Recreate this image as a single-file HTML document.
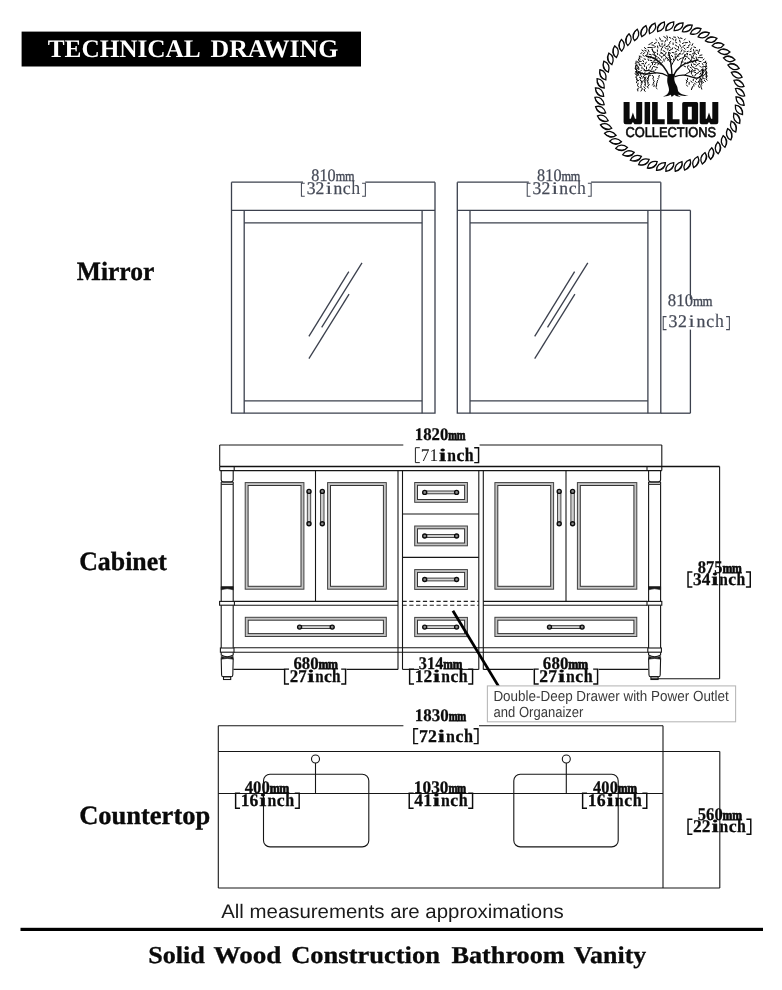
<!DOCTYPE html>
<html><head><meta charset="utf-8"><title>Technical Drawing</title>
<style>
html,body{margin:0;padding:0;background:#fff;}
body{width:782px;height:990px;overflow:hidden;position:relative;font-family:"Liberation Sans",sans-serif;}
svg{position:absolute;left:0;top:0;display:block;will-change:transform;}
.m{stroke:#3b404d;stroke-width:1.3;fill:none;}
.c{stroke:#161616;stroke-width:1.1;fill:none;}
.cg{stroke:#4a4a4a;stroke-width:1;fill:none;}
.ck{stroke:#111;stroke-width:1.5;fill:none;}
.pn{stroke:#404040;stroke-width:1;fill:none;}
.pi{stroke:#333;stroke-width:1;fill:none;}
text{font-family:"Liberation Serif",serif;text-rendering:geometricPrecision;}
.d{font-size:17.8px;text-anchor:middle;fill:#454a57;}
.d.b{font-weight:bold;fill:#0c0c0c;}
.d.l{font-weight:normal;fill:#222;}
.lab{font-family:"Liberation Serif",serif;font-weight:bold;font-size:26.4px;fill:#0a0a0a;stroke:#0a0a0a;stroke-width:.35;}
.ttl{font-family:"Liberation Serif",serif;font-weight:bold;font-size:25.3px;fill:#fff;}
.ftr{font-family:"Liberation Serif",serif;font-weight:bold;font-size:24.2px;fill:#0a0a0a;stroke:#0a0a0a;stroke-width:.3;}
.note{font-family:"Liberation Sans",sans-serif;font-size:19.6px;fill:#1a1a1a;}
.call{font-family:"Liberation Sans",sans-serif;font-size:14.7px;fill:#3a3a3a;}
</style></head><body>
<svg width="782" height="990" viewBox="0 0 782 990">
<rect x="0" y="0" width="782" height="990" fill="#fff"/>
<rect x="21.6" y="31.6" width="339.4" height="34.9" fill="#000"/>
<text class="ttl" x="47.7" y="56.7" textLength="153" lengthAdjust="spacingAndGlyphs">TECHNICAL</text>
<text class="ttl" x="210.5" y="56.7" textLength="127.8" lengthAdjust="spacingAndGlyphs">DRAWING</text>
<text class="lab" x="76.8" y="280.4" textLength="77.6" lengthAdjust="spacingAndGlyphs">Mirror</text>
<text class="lab" x="79.2" y="569.6" textLength="87.6" lengthAdjust="spacingAndGlyphs">Cabinet</text>
<text class="lab" x="79.2" y="823.8" textLength="131" lengthAdjust="spacingAndGlyphs">Countertop</text>
<g class="m">
<path d="M231.5 182.2V413.2H435V182.2"/>
<line x1="231.5" y1="210.3" x2="435" y2="210.3"/>
<line x1="244.2" y1="210.3" x2="244.2" y2="413.2"/>
<line x1="422.1" y1="210.3" x2="422.1" y2="413.2"/>
<line x1="244.2" y1="222.9" x2="422.1" y2="222.9"/>
<line x1="244.2" y1="400.9" x2="422.1" y2="400.9"/>
<line x1="231.5" y1="182.2" x2="303" y2="182.2"/>
<line x1="365.3" y1="182.2" x2="435" y2="182.2"/>
<line x1="348.8" y1="271.7" x2="308.9" y2="336.3"/>
<line x1="362" y1="262.8" x2="321.7" y2="327.4"/>
<line x1="349.1" y1="294.1" x2="308.9" y2="358.7"/>
</g>
<text class="d" transform="translate(315.29 181.4) scale(0.91 1)" stroke="#454a57" stroke-width=".25">8</text>
<text class="d" transform="translate(323.47 181.4) scale(0.91 1)" stroke="#454a57" stroke-width=".25">1</text>
<text class="d" transform="translate(331.65 181.4) scale(0.91 1)" stroke="#454a57" stroke-width=".25">0</text>
<text class="d" transform="translate(340.41 181.4) scale(0.69 0.83)" stroke="#454a57" stroke-width=".5">m</text>
<text class="d" transform="translate(349.74 181.4) scale(0.69 0.83)" stroke="#454a57" stroke-width=".5">m</text>
<path d="M304.73 183.2H301.43V196.2H304.73" fill="none" stroke="#454a57" stroke-width="1.05"/>
<text class="d" transform="translate(311.07 194) scale(0.99 1)" stroke="#454a57" stroke-width=".25">3</text>
<text class="d" transform="translate(320 194) scale(0.99 1)" stroke="#454a57" stroke-width=".25">2</text>
<text class="d" transform="translate(328.93 194) scale(1.45 1)">i</text>
<text class="d" transform="translate(337.87 194) scale(0.99 1)" stroke="#454a57" stroke-width=".25">n</text>
<text class="d" transform="translate(346.8 194) scale(1 1)" stroke="#454a57" stroke-width=".25">c</text>
<text class="d" transform="translate(355.73 194) scale(1 1.08)">h</text>
<path d="M362.07 183.2H365.38V196.2H362.07" fill="none" stroke="#454a57" stroke-width="1.05"/>
<g class="m">
<path d="M457.3 182.2V413.2H660.8V182.2"/>
<line x1="457.3" y1="210.3" x2="660.8" y2="210.3"/>
<line x1="470" y1="210.3" x2="470" y2="413.2"/>
<line x1="647.9" y1="210.3" x2="647.9" y2="413.2"/>
<line x1="470" y1="222.9" x2="647.9" y2="222.9"/>
<line x1="470" y1="400.9" x2="647.9" y2="400.9"/>
<line x1="457.3" y1="182.2" x2="528.8" y2="182.2"/>
<line x1="591.1" y1="182.2" x2="660.8" y2="182.2"/>
<line x1="574.6" y1="271.7" x2="534.7" y2="336.3"/>
<line x1="587.8" y1="262.8" x2="547.5" y2="327.4"/>
<line x1="574.9" y1="294.1" x2="534.7" y2="358.7"/>
</g>
<text class="d" transform="translate(541.09 181.4) scale(0.91 1)" stroke="#454a57" stroke-width=".25">8</text>
<text class="d" transform="translate(549.27 181.4) scale(0.91 1)" stroke="#454a57" stroke-width=".25">1</text>
<text class="d" transform="translate(557.45 181.4) scale(0.91 1)" stroke="#454a57" stroke-width=".25">0</text>
<text class="d" transform="translate(566.21 181.4) scale(0.69 0.83)" stroke="#454a57" stroke-width=".5">m</text>
<text class="d" transform="translate(575.54 181.4) scale(0.69 0.83)" stroke="#454a57" stroke-width=".5">m</text>
<path d="M530.52 183.2H527.23V196.2H530.52" fill="none" stroke="#454a57" stroke-width="1.05"/>
<text class="d" transform="translate(536.87 194) scale(0.99 1)" stroke="#454a57" stroke-width=".25">3</text>
<text class="d" transform="translate(545.8 194) scale(0.99 1)" stroke="#454a57" stroke-width=".25">2</text>
<text class="d" transform="translate(554.73 194) scale(1.45 1)">i</text>
<text class="d" transform="translate(563.67 194) scale(0.99 1)" stroke="#454a57" stroke-width=".25">n</text>
<text class="d" transform="translate(572.6 194) scale(1 1)" stroke="#454a57" stroke-width=".25">c</text>
<text class="d" transform="translate(581.53 194) scale(1 1.08)">h</text>
<path d="M587.88 183.2H591.18V196.2H587.88" fill="none" stroke="#454a57" stroke-width="1.05"/>
<g class="m">
<line x1="660.8" y1="210.3" x2="690.4" y2="210.3"/>
<line x1="660.8" y1="413.2" x2="690.4" y2="413.2"/>
<line x1="690.4" y1="210.3" x2="690.4" y2="299.5"/>
<line x1="690.4" y1="329.6" x2="690.4" y2="413.2"/>
</g>
<text class="d" transform="translate(671.84 306.3) scale(0.94 1)" stroke="#454a57" stroke-width=".25">8</text>
<text class="d" transform="translate(680.33 306.3) scale(0.94 1)" stroke="#454a57" stroke-width=".25">1</text>
<text class="d" transform="translate(688.81 306.3) scale(0.94 1)" stroke="#454a57" stroke-width=".25">0</text>
<text class="d" transform="translate(697.89 306.3) scale(0.72 0.83)" stroke="#454a57" stroke-width=".5">m</text>
<text class="d" transform="translate(707.56 306.3) scale(0.72 0.83)" stroke="#454a57" stroke-width=".5">m</text>
<path d="M666.52 316.6H663.22V329.6H666.52" fill="none" stroke="#454a57" stroke-width="1.05"/>
<text class="d" transform="translate(673.05 327.4) scale(1 1)" stroke="#454a57" stroke-width=".25">3</text>
<text class="d" transform="translate(682.35 327.4) scale(1 1)" stroke="#454a57" stroke-width=".25">2</text>
<text class="d" transform="translate(691.65 327.4) scale(1.45 1)">i</text>
<text class="d" transform="translate(700.95 327.4) scale(1 1)" stroke="#454a57" stroke-width=".25">n</text>
<text class="d" transform="translate(710.25 327.4) scale(1 1)" stroke="#454a57" stroke-width=".25">c</text>
<text class="d" transform="translate(719.55 327.4) scale(1 1.08)">h</text>
<path d="M726.08 316.6H729.38V329.6H726.08" fill="none" stroke="#454a57" stroke-width="1.05"/>
<g class="c">
<line x1="219.7" y1="445" x2="219.7" y2="466.4"/>
<line x1="661.8" y1="445" x2="661.8" y2="466.4"/>
<line x1="219.7" y1="445" x2="403.3" y2="445"/>
<line x1="479.6" y1="445" x2="661.8" y2="445"/>
<line x1="219.7" y1="466.4" x2="719.6" y2="466.4" class="ck"/>
<line x1="219.7" y1="470.6" x2="661.8" y2="470.6"/>
<line x1="219.7" y1="466.4" x2="219.7" y2="470.6"/>
<line x1="661.8" y1="466.4" x2="661.8" y2="470.6"/>
<line x1="234.2" y1="466.4" x2="234.2" y2="470.6"/>
<line x1="647" y1="466.4" x2="647" y2="470.6"/>
<line x1="719.6" y1="466.4" x2="719.6" y2="678.8"/>
<line x1="651" y1="678.8" x2="719.6" y2="678.8"/>
<line x1="221.2" y1="484.3" x2="221.2" y2="601.4"/>
<line x1="233.2" y1="484.3" x2="233.2" y2="601.4"/>
<path d="M221.2 470.6V479.5Q221.2 482 223.7 482H230.7Q233.2 482 233.2 479.5V470.6"/>
<line x1="221.2" y1="482" x2="233.2" y2="482"/>
<line x1="221.2" y1="484.3" x2="233.2" y2="484.3"/>
<line x1="221.2" y1="482" x2="221.2" y2="484.3"/>
<line x1="233.2" y1="482" x2="233.2" y2="484.3"/>
<path d="M221.2 586.6H233.2V589.8Q227.2 587.6 221.2 589.8Z" fill="#1a1a1a" stroke-width=".6"/>
<rect x="219.6" y="601.4" width="14.8" height="3.8"/>
<line x1="221.2" y1="605.2" x2="221.2" y2="648"/>
<line x1="233.2" y1="605.2" x2="233.2" y2="648"/>
<rect x="220.4" y="648" width="13.6" height="4.2"/>
<path d="M221.2 652.2V655Q227.2 658.5 233.2 655V652.2"/>
<path d="M221.2 659.2V656.4Q227.2 658.2 233.2 656.4V659.2Q227.2 657.6 221.2 659.2Z" fill="#1a1a1a" stroke-width=".6"/>
<path d="M221.2 658.5L221.6 675Q221.7 676.7 223.2 676.7H231.2Q232.7 676.7 232.8 675L233.2 658.5"/>
<rect x="223.5" y="676.7" width="7.2" height="2.8"/>
<line x1="648.6" y1="484.3" x2="648.6" y2="601.4"/>
<line x1="660.6" y1="484.3" x2="660.6" y2="601.4"/>
<path d="M648.6 470.6V479.5Q648.6 482 651.1 482H658.1Q660.6 482 660.6 479.5V470.6"/>
<line x1="648.6" y1="482" x2="660.6" y2="482"/>
<line x1="648.6" y1="484.3" x2="660.6" y2="484.3"/>
<line x1="648.6" y1="482" x2="648.6" y2="484.3"/>
<line x1="660.6" y1="482" x2="660.6" y2="484.3"/>
<path d="M648.6 586.6H660.6V589.8Q654.6 587.6 648.6 589.8Z" fill="#1a1a1a" stroke-width=".6"/>
<rect x="647" y="601.4" width="14.8" height="3.8"/>
<line x1="648.6" y1="605.2" x2="648.6" y2="648"/>
<line x1="660.6" y1="605.2" x2="660.6" y2="648"/>
<rect x="647.8" y="648" width="13.6" height="4.2"/>
<path d="M648.6 652.2V655Q654.6 658.5 660.6 655V652.2"/>
<path d="M648.6 659.2V656.4Q654.6 658.2 660.6 656.4V659.2Q654.6 657.6 648.6 659.2Z" fill="#1a1a1a" stroke-width=".6"/>
<path d="M648.6 658.5L649 675Q649.1 676.7 650.6 676.7H658.6Q660.1 676.7 660.2 675L660.6 658.5"/>
<rect x="650.9" y="676.7" width="7.2" height="2.8"/>
<line x1="234.4" y1="601.4" x2="398" y2="601.4"/>
<line x1="483.3" y1="601.4" x2="647" y2="601.4"/>
<line x1="402.5" y1="601.4" x2="478.8" y2="601.4" stroke-dasharray="4.2 2.6" stroke="#222"/>
<line x1="234.4" y1="605.2" x2="398" y2="605.2"/>
<line x1="483.3" y1="605.2" x2="647" y2="605.2"/>
<line x1="402.5" y1="605.2" x2="478.8" y2="605.2" stroke-dasharray="4.2 2.6" stroke="#222"/>
<line x1="234" y1="647.8" x2="647.8" y2="647.8"/>
<line x1="234" y1="652.2" x2="647.8" y2="652.2"/>
<line x1="398" y1="470.6" x2="398" y2="669.4"/>
<line x1="402.5" y1="470.6" x2="402.5" y2="669.4"/>
<line x1="478.8" y1="470.6" x2="478.8" y2="669.4"/>
<line x1="483.3" y1="470.6" x2="483.3" y2="669.4"/>
<line x1="315.5" y1="470.6" x2="315.5" y2="601.4"/>
<line x1="566" y1="470.6" x2="566" y2="601.4"/>
<line x1="402.5" y1="514" x2="478.8" y2="514"/>
<line x1="402.5" y1="557.4" x2="478.8" y2="557.4"/>
<line x1="233.4" y1="669.4" x2="284" y2="669.4"/>
<line x1="346.5" y1="669.4" x2="398" y2="669.4"/>
<line x1="402.5" y1="669.4" x2="419" y2="669.4"/>
<line x1="462" y1="669.4" x2="478.8" y2="669.4"/>
<line x1="483.3" y1="669.4" x2="533.5" y2="669.4"/>
<line x1="598.6" y1="669.4" x2="648.4" y2="669.4"/>
</g>
<rect x="246.65" y="484.05" width="55.8" height="103.7" stroke="#c4c4c4" stroke-width="2.9" fill="none"/>
<rect x="245.2" y="482.6" width="58.7" height="106.6" class="pn"/>
<rect x="248.1" y="485.5" width="52.9" height="100.8" class="pi"/>
<rect x="329.05" y="484.05" width="55.8" height="103.7" stroke="#c4c4c4" stroke-width="2.9" fill="none"/>
<rect x="327.6" y="482.6" width="58.7" height="106.6" class="pn"/>
<rect x="330.5" y="485.5" width="52.9" height="100.8" class="pi"/>
<rect x="496.35" y="484.05" width="55.8" height="103.7" stroke="#c4c4c4" stroke-width="2.9" fill="none"/>
<rect x="494.9" y="482.6" width="58.7" height="106.6" class="pn"/>
<rect x="497.8" y="485.5" width="52.9" height="100.8" class="pi"/>
<rect x="578.85" y="484.05" width="56.5" height="103.7" stroke="#c4c4c4" stroke-width="2.9" fill="none"/>
<rect x="577.4" y="482.6" width="59.4" height="106.6" class="pn"/>
<rect x="580.3" y="485.5" width="53.6" height="100.8" class="pi"/>
<rect x="416.1" y="483.9" width="49.9" height="17" stroke="#c4c4c4" stroke-width="2.8" fill="none"/>
<rect x="414.7" y="482.5" width="52.7" height="19.8" class="pn"/>
<rect x="417.5" y="485.3" width="47.1" height="14.2" class="pi"/>
<rect x="416.1" y="527.4" width="49.9" height="17" stroke="#c4c4c4" stroke-width="2.8" fill="none"/>
<rect x="414.7" y="526" width="52.7" height="19.8" class="pn"/>
<rect x="417.5" y="528.8" width="47.1" height="14.2" class="pi"/>
<rect x="416.1" y="571" width="49.9" height="17" stroke="#c4c4c4" stroke-width="2.8" fill="none"/>
<rect x="414.7" y="569.6" width="52.7" height="19.8" class="pn"/>
<rect x="417.5" y="572.4" width="47.1" height="14.2" class="pi"/>
<rect x="416.1" y="618.8" width="49.9" height="16.4" stroke="#c4c4c4" stroke-width="2.8" fill="none"/>
<rect x="414.7" y="617.4" width="52.7" height="19.2" class="pn"/>
<rect x="417.5" y="620.2" width="47.1" height="13.6" class="pi"/>
<rect x="246.75" y="618.75" width="138.1" height="16.3" stroke="#c4c4c4" stroke-width="2.9" fill="none"/>
<rect x="245.3" y="617.3" width="141" height="19.2" class="pn"/>
<rect x="248.2" y="620.2" width="135.2" height="13.4" class="pi"/>
<rect x="496.35" y="618.75" width="139" height="16.3" stroke="#c4c4c4" stroke-width="2.9" fill="none"/>
<rect x="494.9" y="617.3" width="141.9" height="19.2" class="pn"/>
<rect x="497.8" y="620.2" width="136.1" height="13.4" class="pi"/>
<rect x="307.3" y="491.4" width="3.4" height="32.3" stroke="#3a3a3a" stroke-width=".9" fill="#cfcfcf"/>
<circle cx="309" cy="491.4" r="2" fill="#8c8c8c" stroke="#0c0c0c" stroke-width="1.4"/>
<circle cx="309" cy="523.7" r="2" fill="#8c8c8c" stroke="#0c0c0c" stroke-width="1.4"/>
<rect x="320.6" y="491.4" width="3.4" height="32.3" stroke="#3a3a3a" stroke-width=".9" fill="#cfcfcf"/>
<circle cx="322.3" cy="491.4" r="2" fill="#8c8c8c" stroke="#0c0c0c" stroke-width="1.4"/>
<circle cx="322.3" cy="523.7" r="2" fill="#8c8c8c" stroke="#0c0c0c" stroke-width="1.4"/>
<rect x="557.5" y="491.4" width="3.4" height="32.3" stroke="#3a3a3a" stroke-width=".9" fill="#cfcfcf"/>
<circle cx="559.2" cy="491.4" r="2" fill="#8c8c8c" stroke="#0c0c0c" stroke-width="1.4"/>
<circle cx="559.2" cy="523.7" r="2" fill="#8c8c8c" stroke="#0c0c0c" stroke-width="1.4"/>
<rect x="570.9" y="491.4" width="3.4" height="32.3" stroke="#3a3a3a" stroke-width=".9" fill="#cfcfcf"/>
<circle cx="572.6" cy="491.4" r="2" fill="#8c8c8c" stroke="#0c0c0c" stroke-width="1.4"/>
<circle cx="572.6" cy="523.7" r="2" fill="#8c8c8c" stroke="#0c0c0c" stroke-width="1.4"/>
<rect x="424.7" y="491" width="31.9" height="2.8" stroke="#2a2a2a" stroke-width=".9" fill="#d5d5d5"/>
<circle cx="424.7" cy="492.4" r="2" fill="#8c8c8c" stroke="#0c0c0c" stroke-width="1.4"/>
<circle cx="456.6" cy="492.4" r="2" fill="#8c8c8c" stroke="#0c0c0c" stroke-width="1.4"/>
<rect x="424.7" y="534.6" width="31.9" height="2.8" stroke="#2a2a2a" stroke-width=".9" fill="#d5d5d5"/>
<circle cx="424.7" cy="536" r="2" fill="#8c8c8c" stroke="#0c0c0c" stroke-width="1.4"/>
<circle cx="456.6" cy="536" r="2" fill="#8c8c8c" stroke="#0c0c0c" stroke-width="1.4"/>
<rect x="424.7" y="578.1" width="31.9" height="2.8" stroke="#2a2a2a" stroke-width=".9" fill="#d5d5d5"/>
<circle cx="424.7" cy="579.5" r="2" fill="#8c8c8c" stroke="#0c0c0c" stroke-width="1.4"/>
<circle cx="456.6" cy="579.5" r="2" fill="#8c8c8c" stroke="#0c0c0c" stroke-width="1.4"/>
<rect x="424.7" y="625.7" width="31.9" height="2.8" stroke="#2a2a2a" stroke-width=".9" fill="#d5d5d5"/>
<circle cx="424.7" cy="627.1" r="2" fill="#8c8c8c" stroke="#0c0c0c" stroke-width="1.4"/>
<circle cx="456.6" cy="627.1" r="2" fill="#8c8c8c" stroke="#0c0c0c" stroke-width="1.4"/>
<rect x="299.6" y="625.7" width="32.6" height="2.8" stroke="#2a2a2a" stroke-width=".9" fill="#d5d5d5"/>
<circle cx="299.6" cy="627.1" r="2" fill="#8c8c8c" stroke="#0c0c0c" stroke-width="1.4"/>
<circle cx="332.2" cy="627.1" r="2" fill="#8c8c8c" stroke="#0c0c0c" stroke-width="1.4"/>
<rect x="549.5" y="625.7" width="32.6" height="2.8" stroke="#2a2a2a" stroke-width=".9" fill="#d5d5d5"/>
<circle cx="549.5" cy="627.1" r="2" fill="#8c8c8c" stroke="#0c0c0c" stroke-width="1.4"/>
<circle cx="582.1" cy="627.1" r="2" fill="#8c8c8c" stroke="#0c0c0c" stroke-width="1.4"/>
<text class="d b" transform="translate(418.83 439.8) scale(0.94 1)" stroke="#0c0c0c" stroke-width=".25">1</text>
<text class="d b" transform="translate(427.3 439.8) scale(0.94 1)" stroke="#0c0c0c" stroke-width=".25">8</text>
<text class="d b" transform="translate(435.77 439.8) scale(0.94 1)" stroke="#0c0c0c" stroke-width=".25">2</text>
<text class="d b" transform="translate(444.23 439.8) scale(0.94 1)" stroke="#0c0c0c" stroke-width=".25">0</text>
<text class="d b" transform="translate(452.7 439.8) scale(0.59 0.83)" stroke="#0c0c0c" stroke-width="1.0">m</text>
<text class="d b" transform="translate(461.17 439.8) scale(0.59 0.83)" stroke="#0c0c0c" stroke-width="1.0">m</text>
<path d="M419.8 447.7H415.4V462.6H419.8" fill="none" stroke="#222" stroke-width="1"/>
<text class="d l" transform="translate(425.02 460.6) scale(0.98 1)">7</text>
<text class="d l" transform="translate(433.85 460.6) scale(0.98 1)">1</text>
<text class="d b" transform="translate(442.68 460.6) scale(1.45 1)" stroke="#0c0c0c" stroke-width=".3">i</text>
<text class="d b" transform="translate(451.52 460.6) scale(0.88 1)" stroke="#0c0c0c" stroke-width=".25">n</text>
<text class="d b" transform="translate(460.35 460.6) scale(1 1)" stroke="#0c0c0c" stroke-width=".25">c</text>
<text class="d b" transform="translate(469.18 460.6) scale(0.89 1.08)" stroke="#0c0c0c" stroke-width=".3">h</text>
<path d="M474.18 447.7H478.57V462.6H474.18" fill="none" stroke="#0c0c0c" stroke-width="1.45"/>
<text class="d b" transform="translate(297.6 669.3) scale(0.94 1)" stroke="#0c0c0c" stroke-width=".25">6</text>
<text class="d b" transform="translate(306.01 669.3) scale(0.94 1)" stroke="#0c0c0c" stroke-width=".25">8</text>
<text class="d b" transform="translate(314.42 669.3) scale(0.94 1)" stroke="#0c0c0c" stroke-width=".25">0</text>
<text class="d b" transform="translate(323.42 669.3) scale(0.67 0.83)" stroke="#0c0c0c" stroke-width="1.0">m</text>
<text class="d b" transform="translate(333.01 669.3) scale(0.67 0.83)" stroke="#0c0c0c" stroke-width="1.0">m</text>
<path d="M289.03 669.1H284.63V684H289.03" fill="none" stroke="#0c0c0c" stroke-width="1.45"/>
<text class="d b" transform="translate(293.85 682) scale(0.95 1)" stroke="#0c0c0c" stroke-width=".25">2</text>
<text class="d b" transform="translate(302.35 682) scale(0.95 1)" stroke="#0c0c0c" stroke-width=".25">7</text>
<text class="d b" transform="translate(310.85 682) scale(1.45 1)" stroke="#0c0c0c" stroke-width=".3">i</text>
<text class="d b" transform="translate(319.35 682) scale(0.85 1)" stroke="#0c0c0c" stroke-width=".25">n</text>
<text class="d b" transform="translate(327.85 682) scale(1 1)" stroke="#0c0c0c" stroke-width=".25">c</text>
<text class="d b" transform="translate(336.35 682) scale(0.86 1.08)" stroke="#0c0c0c" stroke-width=".3">h</text>
<path d="M341.18 669.1H345.57V684H341.18" fill="none" stroke="#0c0c0c" stroke-width="1.45"/>
<text class="d b" transform="translate(422.91 669.3) scale(0.91 1)" stroke="#0c0c0c" stroke-width=".25">3</text>
<text class="d b" transform="translate(431.13 669.3) scale(0.91 1)" stroke="#0c0c0c" stroke-width=".25">1</text>
<text class="d b" transform="translate(439.35 669.3) scale(0.91 1)" stroke="#0c0c0c" stroke-width=".25">4</text>
<text class="d b" transform="translate(448.14 669.3) scale(0.65 0.83)" stroke="#0c0c0c" stroke-width="1.0">m</text>
<text class="d b" transform="translate(457.51 669.3) scale(0.65 0.83)" stroke="#0c0c0c" stroke-width="1.0">m</text>
<path d="M414.03 669.1H409.63V684H414.03" fill="none" stroke="#0c0c0c" stroke-width="1.45"/>
<text class="d b" transform="translate(419.02 682) scale(0.98 1)" stroke="#0c0c0c" stroke-width=".25">1</text>
<text class="d b" transform="translate(427.85 682) scale(0.98 1)" stroke="#0c0c0c" stroke-width=".25">2</text>
<text class="d b" transform="translate(436.68 682) scale(1.45 1)" stroke="#0c0c0c" stroke-width=".3">i</text>
<text class="d b" transform="translate(445.52 682) scale(0.88 1)" stroke="#0c0c0c" stroke-width=".25">n</text>
<text class="d b" transform="translate(454.35 682) scale(1 1)" stroke="#0c0c0c" stroke-width=".25">c</text>
<text class="d b" transform="translate(463.18 682) scale(0.89 1.08)" stroke="#0c0c0c" stroke-width=".3">h</text>
<path d="M468.18 669.1H472.57V684H468.18" fill="none" stroke="#0c0c0c" stroke-width="1.45"/>
<text class="d b" transform="translate(547.08 669.3) scale(0.95 1)" stroke="#0c0c0c" stroke-width=".25">6</text>
<text class="d b" transform="translate(555.64 669.3) scale(0.95 1)" stroke="#0c0c0c" stroke-width=".25">8</text>
<text class="d b" transform="translate(564.2 669.3) scale(0.95 1)" stroke="#0c0c0c" stroke-width=".25">0</text>
<text class="d b" transform="translate(573.36 669.3) scale(0.68 0.83)" stroke="#0c0c0c" stroke-width="1.0">m</text>
<text class="d b" transform="translate(583.12 669.3) scale(0.68 0.83)" stroke="#0c0c0c" stroke-width="1.0">m</text>
<path d="M538.72 669.1H534.32V684H538.72" fill="none" stroke="#0c0c0c" stroke-width="1.45"/>
<text class="d b" transform="translate(543.74 682) scale(0.99 1)" stroke="#0c0c0c" stroke-width=".25">2</text>
<text class="d b" transform="translate(552.62 682) scale(0.99 1)" stroke="#0c0c0c" stroke-width=".25">7</text>
<text class="d b" transform="translate(561.51 682) scale(1.45 1)" stroke="#0c0c0c" stroke-width=".3">i</text>
<text class="d b" transform="translate(570.39 682) scale(0.89 1)" stroke="#0c0c0c" stroke-width=".25">n</text>
<text class="d b" transform="translate(579.27 682) scale(1 1)" stroke="#0c0c0c" stroke-width=".25">c</text>
<text class="d b" transform="translate(588.16 682) scale(0.9 1.08)" stroke="#0c0c0c" stroke-width=".3">h</text>
<path d="M593.18 669.1H597.58V684H593.18" fill="none" stroke="#0c0c0c" stroke-width="1.45"/>
<text class="d b" transform="translate(701.77 572.7) scale(0.93 1)" stroke="#0c0c0c" stroke-width=".25">8</text>
<text class="d b" transform="translate(710.1 572.7) scale(0.93 1)" stroke="#0c0c0c" stroke-width=".25">7</text>
<text class="d b" transform="translate(718.43 572.7) scale(0.93 1)" stroke="#0c0c0c" stroke-width=".25">5</text>
<text class="d b" transform="translate(727.35 572.7) scale(0.66 0.83)" stroke="#0c0c0c" stroke-width="1.0">m</text>
<text class="d b" transform="translate(736.85 572.7) scale(0.66 0.83)" stroke="#0c0c0c" stroke-width="1.0">m</text>
<path d="M692.42 572H688.02V586.9H692.42" fill="none" stroke="#0c0c0c" stroke-width="1.45"/>
<text class="d b" transform="translate(697.36 584.9) scale(0.97 1)" stroke="#0c0c0c" stroke-width=".25">3</text>
<text class="d b" transform="translate(706.08 584.9) scale(0.97 1)" stroke="#0c0c0c" stroke-width=".25">4</text>
<text class="d b" transform="translate(714.79 584.9) scale(1.45 1)" stroke="#0c0c0c" stroke-width=".3">i</text>
<text class="d b" transform="translate(723.51 584.9) scale(0.87 1)" stroke="#0c0c0c" stroke-width=".25">n</text>
<text class="d b" transform="translate(732.23 584.9) scale(1 1)" stroke="#0c0c0c" stroke-width=".25">c</text>
<text class="d b" transform="translate(740.94 584.9) scale(0.88 1.08)" stroke="#0c0c0c" stroke-width=".3">h</text>
<path d="M745.88 572H750.27V586.9H745.88" fill="none" stroke="#0c0c0c" stroke-width="1.45"/>
<line x1="452.9" y1="610.8" x2="498.6" y2="686.4" stroke="#000" stroke-width="2.8"/>
<rect x="487.4" y="685.9" width="248.2" height="35.9" fill="#fff" stroke="#b9b9b9" stroke-width="1.1"/>
<text class="call" x="493.4" y="701.4" textLength="235.4" lengthAdjust="spacingAndGlyphs">Double-Deep Drawer with Power Outlet</text>
<text class="call" x="493.6" y="717.1" textLength="89.8" lengthAdjust="spacingAndGlyphs">and Organaizer</text>
<g class="c">
<line x1="218.3" y1="725.8" x2="403.4" y2="725.8"/>
<line x1="479" y1="725.8" x2="663" y2="725.8"/>
<line x1="218.3" y1="725.8" x2="218.3" y2="888"/>
<line x1="663" y1="725.8" x2="663" y2="888"/>
<line x1="218.3" y1="751.5" x2="719.8" y2="751.5"/>
<line x1="218.3" y1="888" x2="719.8" y2="888"/>
<line x1="719.8" y1="751.5" x2="719.8" y2="888"/>
<line x1="218.3" y1="793.5" x2="663" y2="793.5"/>
<rect x="263.5" y="774.2" width="105.3" height="72.7" rx="6.5"/>
<rect x="513.8" y="774.2" width="104.4" height="72.7" rx="6.5"/>
<circle cx="315.5" cy="759" r="4"/>
<line x1="315.5" y1="763" x2="315.5" y2="793.5"/>
<circle cx="566.3" cy="759" r="4"/>
<line x1="566.3" y1="763" x2="566.3" y2="793.5"/>
</g>
<text class="d b" transform="translate(418.88 721) scale(0.95 1)" stroke="#0c0c0c" stroke-width=".25">1</text>
<text class="d b" transform="translate(427.45 721) scale(0.95 1)" stroke="#0c0c0c" stroke-width=".25">8</text>
<text class="d b" transform="translate(436.02 721) scale(0.95 1)" stroke="#0c0c0c" stroke-width=".25">3</text>
<text class="d b" transform="translate(444.58 721) scale(0.95 1)" stroke="#0c0c0c" stroke-width=".25">0</text>
<text class="d b" transform="translate(453.15 721) scale(0.6 0.83)" stroke="#0c0c0c" stroke-width="1.0">m</text>
<text class="d b" transform="translate(461.72 721) scale(0.6 0.83)" stroke="#0c0c0c" stroke-width="1.0">m</text>
<path d="M418.23 728.7H413.83V743.6H418.23" fill="none" stroke="#0c0c0c" stroke-width="1.45"/>
<text class="d b" transform="translate(423.32 741.6) scale(1 1)" stroke="#0c0c0c" stroke-width=".25">7</text>
<text class="d b" transform="translate(432.35 741.6) scale(1 1)" stroke="#0c0c0c" stroke-width=".25">2</text>
<text class="d b" transform="translate(441.38 741.6) scale(1.45 1)" stroke="#0c0c0c" stroke-width=".3">i</text>
<text class="d b" transform="translate(450.42 741.6) scale(0.9 1)" stroke="#0c0c0c" stroke-width=".25">n</text>
<text class="d b" transform="translate(459.45 741.6) scale(1 1)" stroke="#0c0c0c" stroke-width=".25">c</text>
<text class="d b" transform="translate(468.48 741.6) scale(0.91 1.08)" stroke="#0c0c0c" stroke-width=".3">h</text>
<path d="M473.57 728.7H477.97V743.6H473.57" fill="none" stroke="#0c0c0c" stroke-width="1.45"/>
<text class="d b" transform="translate(248.8 793.4) scale(0.94 1)" stroke="#0c0c0c" stroke-width=".25">4</text>
<text class="d b" transform="translate(257.21 793.4) scale(0.94 1)" stroke="#0c0c0c" stroke-width=".25">0</text>
<text class="d b" transform="translate(265.62 793.4) scale(0.94 1)" stroke="#0c0c0c" stroke-width=".25">0</text>
<text class="d b" transform="translate(274.62 793.4) scale(0.67 0.83)" stroke="#0c0c0c" stroke-width="1.0">m</text>
<text class="d b" transform="translate(284.21 793.4) scale(0.67 0.83)" stroke="#0c0c0c" stroke-width="1.0">m</text>
<path d="M240.03 793.3H235.62V808.2H240.03" fill="none" stroke="#0c0c0c" stroke-width="1.45"/>
<text class="d b" transform="translate(245.07 806.2) scale(0.99 1)" stroke="#0c0c0c" stroke-width=".25">1</text>
<text class="d b" transform="translate(254 806.2) scale(0.99 1)" stroke="#0c0c0c" stroke-width=".25">6</text>
<text class="d b" transform="translate(262.93 806.2) scale(1.45 1)" stroke="#0c0c0c" stroke-width=".3">i</text>
<text class="d b" transform="translate(271.87 806.2) scale(0.89 1)" stroke="#0c0c0c" stroke-width=".25">n</text>
<text class="d b" transform="translate(280.8 806.2) scale(1 1)" stroke="#0c0c0c" stroke-width=".25">c</text>
<text class="d b" transform="translate(289.73 806.2) scale(0.9 1.08)" stroke="#0c0c0c" stroke-width=".3">h</text>
<path d="M294.77 793.3H299.17V808.2H294.77" fill="none" stroke="#0c0c0c" stroke-width="1.45"/>
<text class="d b" transform="translate(417.97 793.4) scale(0.97 1)" stroke="#0c0c0c" stroke-width=".25">1</text>
<text class="d b" transform="translate(426.7 793.4) scale(0.97 1)" stroke="#0c0c0c" stroke-width=".25">0</text>
<text class="d b" transform="translate(435.43 793.4) scale(0.97 1)" stroke="#0c0c0c" stroke-width=".25">3</text>
<text class="d b" transform="translate(444.17 793.4) scale(0.97 1)" stroke="#0c0c0c" stroke-width=".25">0</text>
<text class="d b" transform="translate(452.9 793.4) scale(0.61 0.83)" stroke="#0c0c0c" stroke-width="1.0">m</text>
<text class="d b" transform="translate(461.63 793.4) scale(0.61 0.83)" stroke="#0c0c0c" stroke-width="1.0">m</text>
<path d="M413.62 793.3H409.23V808.2H413.62" fill="none" stroke="#0c0c0c" stroke-width="1.45"/>
<text class="d b" transform="translate(418.65 806.2) scale(0.99 1)" stroke="#0c0c0c" stroke-width=".25">4</text>
<text class="d b" transform="translate(427.55 806.2) scale(0.99 1)" stroke="#0c0c0c" stroke-width=".25">1</text>
<text class="d b" transform="translate(436.45 806.2) scale(1.45 1)" stroke="#0c0c0c" stroke-width=".3">i</text>
<text class="d b" transform="translate(445.35 806.2) scale(0.89 1)" stroke="#0c0c0c" stroke-width=".25">n</text>
<text class="d b" transform="translate(454.25 806.2) scale(1 1)" stroke="#0c0c0c" stroke-width=".25">c</text>
<text class="d b" transform="translate(463.15 806.2) scale(0.9 1.08)" stroke="#0c0c0c" stroke-width=".3">h</text>
<path d="M468.18 793.3H472.57V808.2H468.18" fill="none" stroke="#0c0c0c" stroke-width="1.45"/>
<text class="d b" transform="translate(597.15 793.4) scale(0.92 1)" stroke="#0c0c0c" stroke-width=".25">4</text>
<text class="d b" transform="translate(605.44 793.4) scale(0.92 1)" stroke="#0c0c0c" stroke-width=".25">0</text>
<text class="d b" transform="translate(613.74 793.4) scale(0.92 1)" stroke="#0c0c0c" stroke-width=".25">0</text>
<text class="d b" transform="translate(622.61 793.4) scale(0.66 0.83)" stroke="#0c0c0c" stroke-width="1.0">m</text>
<text class="d b" transform="translate(632.07 793.4) scale(0.66 0.83)" stroke="#0c0c0c" stroke-width="1.0">m</text>
<path d="M587.02 793.3H582.62V808.2H587.02" fill="none" stroke="#0c0c0c" stroke-width="1.45"/>
<text class="d b" transform="translate(592.12 806.2) scale(1 1)" stroke="#0c0c0c" stroke-width=".25">1</text>
<text class="d b" transform="translate(601.15 806.2) scale(1 1)" stroke="#0c0c0c" stroke-width=".25">6</text>
<text class="d b" transform="translate(610.18 806.2) scale(1.45 1)" stroke="#0c0c0c" stroke-width=".3">i</text>
<text class="d b" transform="translate(619.22 806.2) scale(0.9 1)" stroke="#0c0c0c" stroke-width=".25">n</text>
<text class="d b" transform="translate(628.25 806.2) scale(1 1)" stroke="#0c0c0c" stroke-width=".25">c</text>
<text class="d b" transform="translate(637.28 806.2) scale(0.91 1.08)" stroke="#0c0c0c" stroke-width=".3">h</text>
<path d="M642.38 793.3H646.77V808.2H642.38" fill="none" stroke="#0c0c0c" stroke-width="1.45"/>
<text class="d b" transform="translate(701.79 819.6) scale(0.93 1)" stroke="#0c0c0c" stroke-width=".25">5</text>
<text class="d b" transform="translate(710.16 819.6) scale(0.93 1)" stroke="#0c0c0c" stroke-width=".25">6</text>
<text class="d b" transform="translate(718.53 819.6) scale(0.93 1)" stroke="#0c0c0c" stroke-width=".25">0</text>
<text class="d b" transform="translate(727.49 819.6) scale(0.66 0.83)" stroke="#0c0c0c" stroke-width="1.0">m</text>
<text class="d b" transform="translate(737.03 819.6) scale(0.66 0.83)" stroke="#0c0c0c" stroke-width="1.0">m</text>
<path d="M692.42 819.3H688.02V834.2H692.42" fill="none" stroke="#0c0c0c" stroke-width="1.45"/>
<text class="d b" transform="translate(697.4 832.2) scale(0.98 1)" stroke="#0c0c0c" stroke-width=".25">2</text>
<text class="d b" transform="translate(706.2 832.2) scale(0.98 1)" stroke="#0c0c0c" stroke-width=".25">2</text>
<text class="d b" transform="translate(715 832.2) scale(1.45 1)" stroke="#0c0c0c" stroke-width=".3">i</text>
<text class="d b" transform="translate(723.8 832.2) scale(0.88 1)" stroke="#0c0c0c" stroke-width=".25">n</text>
<text class="d b" transform="translate(732.6 832.2) scale(1 1)" stroke="#0c0c0c" stroke-width=".25">c</text>
<text class="d b" transform="translate(741.4 832.2) scale(0.89 1.08)" stroke="#0c0c0c" stroke-width=".3">h</text>
<path d="M746.38 819.3H750.77V834.2H746.38" fill="none" stroke="#0c0c0c" stroke-width="1.45"/>
<text class="note" x="221.2" y="918.4" textLength="342.6" lengthAdjust="spacingAndGlyphs">All measurements are approximations</text>
<rect x="20.5" y="927.8" width="742.5" height="3.2" fill="#000"/>
<text class="ftr" x="148.2" y="963.4" textLength="56.7" lengthAdjust="spacingAndGlyphs">Solid</text>
<text class="ftr" x="213.6" y="963.4" textLength="67.8" lengthAdjust="spacingAndGlyphs">Wood</text>
<text class="ftr" x="291.2" y="963.4" textLength="148.8" lengthAdjust="spacingAndGlyphs">Construction</text>
<text class="ftr" x="451.4" y="963.4" textLength="113.3" lengthAdjust="spacingAndGlyphs">Bathroom</text>
<text class="ftr" x="573.8" y="963.4" textLength="72.4" lengthAdjust="spacingAndGlyphs">Vanity</text>
<g id="logo">
<path transform="translate(740.06 101.02) rotate(45.6)" d="M-5.9 0C-2.66 -3.8 2.06 -3.55 5.9 0C2.66 3.8 -2.06 3.55 -5.9 0Z" fill="#fff" stroke="#0a0a0a" stroke-width="1.3" stroke-linejoin="miter"/>
<path transform="translate(740.06 101.02) rotate(45.6)" d="M-5.9 0C-2.66 -3.8 2.06 -3.55 5.9 0C2.06 -2.08 -2.66 -2.33 -5.9 0Z" fill="#0a0a0a"/>
<path transform="translate(738.95 109.79) rotate(52.8)" d="M-5.9 0C-2.66 -3.8 2.06 -3.55 5.9 0C2.66 3.8 -2.06 3.55 -5.9 0Z" fill="#fff" stroke="#0a0a0a" stroke-width="1.3" stroke-linejoin="miter"/>
<path transform="translate(738.95 109.79) rotate(52.8)" d="M-5.9 0C-2.66 -3.8 2.06 -3.55 5.9 0C2.06 -2.08 -2.66 -2.33 -5.9 0Z" fill="#0a0a0a"/>
<path transform="translate(736.75 118.35) rotate(60)" d="M-5.9 0C-2.66 -3.8 2.06 -3.55 5.9 0C2.66 3.8 -2.06 3.55 -5.9 0Z" fill="#fff" stroke="#0a0a0a" stroke-width="1.3" stroke-linejoin="miter"/>
<path transform="translate(736.75 118.35) rotate(60)" d="M-5.9 0C-2.66 -3.8 2.06 -3.55 5.9 0C2.06 -2.08 -2.66 -2.33 -5.9 0Z" fill="#0a0a0a"/>
<path transform="translate(733.5 126.57) rotate(67.2)" d="M-5.9 0C-2.66 -3.8 2.06 -3.55 5.9 0C2.66 3.8 -2.06 3.55 -5.9 0Z" fill="#fff" stroke="#0a0a0a" stroke-width="1.3" stroke-linejoin="miter"/>
<path transform="translate(733.5 126.57) rotate(67.2)" d="M-5.9 0C-2.66 -3.8 2.06 -3.55 5.9 0C2.06 -2.08 -2.66 -2.33 -5.9 0Z" fill="#0a0a0a"/>
<path transform="translate(729.24 134.32) rotate(74.4)" d="M-5.9 0C-2.66 -3.8 2.06 -3.55 5.9 0C2.66 3.8 -2.06 3.55 -5.9 0Z" fill="#fff" stroke="#0a0a0a" stroke-width="1.3" stroke-linejoin="miter"/>
<path transform="translate(729.24 134.32) rotate(74.4)" d="M-5.9 0C-2.66 -3.8 2.06 -3.55 5.9 0C2.06 -2.08 -2.66 -2.33 -5.9 0Z" fill="#0a0a0a"/>
<path transform="translate(724.04 141.47) rotate(81.6)" d="M-5.9 0C-2.66 -3.8 2.06 -3.55 5.9 0C2.66 3.8 -2.06 3.55 -5.9 0Z" fill="#fff" stroke="#0a0a0a" stroke-width="1.3" stroke-linejoin="miter"/>
<path transform="translate(724.04 141.47) rotate(81.6)" d="M-5.9 0C-2.66 -3.8 2.06 -3.55 5.9 0C2.06 -2.08 -2.66 -2.33 -5.9 0Z" fill="#0a0a0a"/>
<path transform="translate(717.99 147.92) rotate(88.8)" d="M-5.9 0C-2.66 -3.8 2.06 -3.55 5.9 0C2.66 3.8 -2.06 3.55 -5.9 0Z" fill="#fff" stroke="#0a0a0a" stroke-width="1.3" stroke-linejoin="miter"/>
<path transform="translate(717.99 147.92) rotate(88.8)" d="M-5.9 0C-2.66 -3.8 2.06 -3.55 5.9 0C2.06 -2.08 -2.66 -2.33 -5.9 0Z" fill="#0a0a0a"/>
<path transform="translate(711.18 153.55) rotate(96)" d="M-5.9 0C-2.66 -3.8 2.06 -3.55 5.9 0C2.66 3.8 -2.06 3.55 -5.9 0Z" fill="#fff" stroke="#0a0a0a" stroke-width="1.3" stroke-linejoin="miter"/>
<path transform="translate(711.18 153.55) rotate(96)" d="M-5.9 0C-2.66 -3.8 2.06 -3.55 5.9 0C2.06 -2.08 -2.66 -2.33 -5.9 0Z" fill="#0a0a0a"/>
<path transform="translate(703.72 158.29) rotate(103.2)" d="M-5.9 0C-2.66 -3.8 2.06 -3.55 5.9 0C2.66 3.8 -2.06 3.55 -5.9 0Z" fill="#fff" stroke="#0a0a0a" stroke-width="1.3" stroke-linejoin="miter"/>
<path transform="translate(703.72 158.29) rotate(103.2)" d="M-5.9 0C-2.66 -3.8 2.06 -3.55 5.9 0C2.06 -2.08 -2.66 -2.33 -5.9 0Z" fill="#0a0a0a"/>
<path transform="translate(695.72 162.06) rotate(110.4)" d="M-5.9 0C-2.66 -3.8 2.06 -3.55 5.9 0C2.66 3.8 -2.06 3.55 -5.9 0Z" fill="#fff" stroke="#0a0a0a" stroke-width="1.3" stroke-linejoin="miter"/>
<path transform="translate(695.72 162.06) rotate(110.4)" d="M-5.9 0C-2.66 -3.8 2.06 -3.55 5.9 0C2.06 -2.08 -2.66 -2.33 -5.9 0Z" fill="#0a0a0a"/>
<path transform="translate(687.31 164.79) rotate(117.6)" d="M-5.9 0C-2.66 -3.8 2.06 -3.55 5.9 0C2.66 3.8 -2.06 3.55 -5.9 0Z" fill="#fff" stroke="#0a0a0a" stroke-width="1.3" stroke-linejoin="miter"/>
<path transform="translate(687.31 164.79) rotate(117.6)" d="M-5.9 0C-2.66 -3.8 2.06 -3.55 5.9 0C2.06 -2.08 -2.66 -2.33 -5.9 0Z" fill="#0a0a0a"/>
<path transform="translate(678.62 166.44) rotate(124.8)" d="M-5.9 0C-2.66 -3.8 2.06 -3.55 5.9 0C2.66 3.8 -2.06 3.55 -5.9 0Z" fill="#fff" stroke="#0a0a0a" stroke-width="1.3" stroke-linejoin="miter"/>
<path transform="translate(678.62 166.44) rotate(124.8)" d="M-5.9 0C-2.66 -3.8 2.06 -3.55 5.9 0C2.06 -2.08 -2.66 -2.33 -5.9 0Z" fill="#0a0a0a"/>
<path transform="translate(669.8 167) rotate(132)" d="M-5.9 0C-2.66 -3.8 2.06 -3.55 5.9 0C2.66 3.8 -2.06 3.55 -5.9 0Z" fill="#fff" stroke="#0a0a0a" stroke-width="1.3" stroke-linejoin="miter"/>
<path transform="translate(669.8 167) rotate(132)" d="M-5.9 0C-2.66 -3.8 2.06 -3.55 5.9 0C2.06 -2.08 -2.66 -2.33 -5.9 0Z" fill="#0a0a0a"/>
<path transform="translate(660.98 166.44) rotate(139.2)" d="M-5.9 0C-2.66 -3.8 2.06 -3.55 5.9 0C2.66 3.8 -2.06 3.55 -5.9 0Z" fill="#fff" stroke="#0a0a0a" stroke-width="1.3" stroke-linejoin="miter"/>
<path transform="translate(660.98 166.44) rotate(139.2)" d="M-5.9 0C-2.66 -3.8 2.06 -3.55 5.9 0C2.06 -2.08 -2.66 -2.33 -5.9 0Z" fill="#0a0a0a"/>
<path transform="translate(652.29 164.79) rotate(146.4)" d="M-5.9 0C-2.66 -3.8 2.06 -3.55 5.9 0C2.66 3.8 -2.06 3.55 -5.9 0Z" fill="#fff" stroke="#0a0a0a" stroke-width="1.3" stroke-linejoin="miter"/>
<path transform="translate(652.29 164.79) rotate(146.4)" d="M-5.9 0C-2.66 -3.8 2.06 -3.55 5.9 0C2.06 -2.08 -2.66 -2.33 -5.9 0Z" fill="#0a0a0a"/>
<path transform="translate(643.88 162.06) rotate(153.6)" d="M-5.9 0C-2.66 -3.8 2.06 -3.55 5.9 0C2.66 3.8 -2.06 3.55 -5.9 0Z" fill="#fff" stroke="#0a0a0a" stroke-width="1.3" stroke-linejoin="miter"/>
<path transform="translate(643.88 162.06) rotate(153.6)" d="M-5.9 0C-2.66 -3.8 2.06 -3.55 5.9 0C2.06 -2.08 -2.66 -2.33 -5.9 0Z" fill="#0a0a0a"/>
<path transform="translate(635.88 158.29) rotate(160.8)" d="M-5.9 0C-2.66 -3.8 2.06 -3.55 5.9 0C2.66 3.8 -2.06 3.55 -5.9 0Z" fill="#fff" stroke="#0a0a0a" stroke-width="1.3" stroke-linejoin="miter"/>
<path transform="translate(635.88 158.29) rotate(160.8)" d="M-5.9 0C-2.66 -3.8 2.06 -3.55 5.9 0C2.06 -2.08 -2.66 -2.33 -5.9 0Z" fill="#0a0a0a"/>
<path transform="translate(628.42 153.55) rotate(168)" d="M-5.9 0C-2.66 -3.8 2.06 -3.55 5.9 0C2.66 3.8 -2.06 3.55 -5.9 0Z" fill="#fff" stroke="#0a0a0a" stroke-width="1.3" stroke-linejoin="miter"/>
<path transform="translate(628.42 153.55) rotate(168)" d="M-5.9 0C-2.66 -3.8 2.06 -3.55 5.9 0C2.06 -2.08 -2.66 -2.33 -5.9 0Z" fill="#0a0a0a"/>
<path transform="translate(621.61 147.92) rotate(175.2)" d="M-5.9 0C-2.66 -3.8 2.06 -3.55 5.9 0C2.66 3.8 -2.06 3.55 -5.9 0Z" fill="#fff" stroke="#0a0a0a" stroke-width="1.3" stroke-linejoin="miter"/>
<path transform="translate(621.61 147.92) rotate(175.2)" d="M-5.9 0C-2.66 -3.8 2.06 -3.55 5.9 0C2.06 -2.08 -2.66 -2.33 -5.9 0Z" fill="#0a0a0a"/>
<path transform="translate(615.56 141.47) rotate(182.4)" d="M-5.9 0C-2.66 -3.8 2.06 -3.55 5.9 0C2.66 3.8 -2.06 3.55 -5.9 0Z" fill="#fff" stroke="#0a0a0a" stroke-width="1.3" stroke-linejoin="miter"/>
<path transform="translate(615.56 141.47) rotate(182.4)" d="M-5.9 0C-2.66 -3.8 2.06 -3.55 5.9 0C2.06 -2.08 -2.66 -2.33 -5.9 0Z" fill="#0a0a0a"/>
<path transform="translate(610.36 134.32) rotate(189.6)" d="M-5.9 0C-2.66 -3.8 2.06 -3.55 5.9 0C2.66 3.8 -2.06 3.55 -5.9 0Z" fill="#fff" stroke="#0a0a0a" stroke-width="1.3" stroke-linejoin="miter"/>
<path transform="translate(610.36 134.32) rotate(189.6)" d="M-5.9 0C-2.66 -3.8 2.06 -3.55 5.9 0C2.06 -2.08 -2.66 -2.33 -5.9 0Z" fill="#0a0a0a"/>
<path transform="translate(606.1 126.57) rotate(196.8)" d="M-5.9 0C-2.66 -3.8 2.06 -3.55 5.9 0C2.66 3.8 -2.06 3.55 -5.9 0Z" fill="#fff" stroke="#0a0a0a" stroke-width="1.3" stroke-linejoin="miter"/>
<path transform="translate(606.1 126.57) rotate(196.8)" d="M-5.9 0C-2.66 -3.8 2.06 -3.55 5.9 0C2.06 -2.08 -2.66 -2.33 -5.9 0Z" fill="#0a0a0a"/>
<path transform="translate(602.85 118.35) rotate(204)" d="M-5.9 0C-2.66 -3.8 2.06 -3.55 5.9 0C2.66 3.8 -2.06 3.55 -5.9 0Z" fill="#fff" stroke="#0a0a0a" stroke-width="1.3" stroke-linejoin="miter"/>
<path transform="translate(602.85 118.35) rotate(204)" d="M-5.9 0C-2.66 -3.8 2.06 -3.55 5.9 0C2.06 -2.08 -2.66 -2.33 -5.9 0Z" fill="#0a0a0a"/>
<path transform="translate(600.65 109.79) rotate(211.2)" d="M-5.9 0C-2.66 -3.8 2.06 -3.55 5.9 0C2.66 3.8 -2.06 3.55 -5.9 0Z" fill="#fff" stroke="#0a0a0a" stroke-width="1.3" stroke-linejoin="miter"/>
<path transform="translate(600.65 109.79) rotate(211.2)" d="M-5.9 0C-2.66 -3.8 2.06 -3.55 5.9 0C2.06 -2.08 -2.66 -2.33 -5.9 0Z" fill="#0a0a0a"/>
<path transform="translate(599.54 101.02) rotate(218.4)" d="M-5.9 0C-2.66 -3.8 2.06 -3.55 5.9 0C2.66 3.8 -2.06 3.55 -5.9 0Z" fill="#fff" stroke="#0a0a0a" stroke-width="1.3" stroke-linejoin="miter"/>
<path transform="translate(599.54 101.02) rotate(218.4)" d="M-5.9 0C-2.66 -3.8 2.06 -3.55 5.9 0C2.06 -2.08 -2.66 -2.33 -5.9 0Z" fill="#0a0a0a"/>
<path transform="translate(599.54 92.18) rotate(225.6)" d="M-5.9 0C-2.66 -3.8 2.06 -3.55 5.9 0C2.66 3.8 -2.06 3.55 -5.9 0Z" fill="#fff" stroke="#0a0a0a" stroke-width="1.3" stroke-linejoin="miter"/>
<path transform="translate(599.54 92.18) rotate(225.6)" d="M-5.9 0C-2.66 -3.8 2.06 -3.55 5.9 0C2.06 -2.08 -2.66 -2.33 -5.9 0Z" fill="#0a0a0a"/>
<path transform="translate(600.65 83.41) rotate(232.8)" d="M-5.9 0C-2.66 -3.8 2.06 -3.55 5.9 0C2.66 3.8 -2.06 3.55 -5.9 0Z" fill="#fff" stroke="#0a0a0a" stroke-width="1.3" stroke-linejoin="miter"/>
<path transform="translate(600.65 83.41) rotate(232.8)" d="M-5.9 0C-2.66 -3.8 2.06 -3.55 5.9 0C2.06 -2.08 -2.66 -2.33 -5.9 0Z" fill="#0a0a0a"/>
<path transform="translate(602.85 74.85) rotate(240)" d="M-5.9 0C-2.66 -3.8 2.06 -3.55 5.9 0C2.66 3.8 -2.06 3.55 -5.9 0Z" fill="#fff" stroke="#0a0a0a" stroke-width="1.3" stroke-linejoin="miter"/>
<path transform="translate(602.85 74.85) rotate(240)" d="M-5.9 0C-2.66 -3.8 2.06 -3.55 5.9 0C2.06 -2.08 -2.66 -2.33 -5.9 0Z" fill="#0a0a0a"/>
<path transform="translate(606.1 66.63) rotate(247.2)" d="M-5.9 0C-2.66 -3.8 2.06 -3.55 5.9 0C2.66 3.8 -2.06 3.55 -5.9 0Z" fill="#fff" stroke="#0a0a0a" stroke-width="1.3" stroke-linejoin="miter"/>
<path transform="translate(606.1 66.63) rotate(247.2)" d="M-5.9 0C-2.66 -3.8 2.06 -3.55 5.9 0C2.06 -2.08 -2.66 -2.33 -5.9 0Z" fill="#0a0a0a"/>
<path transform="translate(610.36 58.88) rotate(254.4)" d="M-5.9 0C-2.66 -3.8 2.06 -3.55 5.9 0C2.66 3.8 -2.06 3.55 -5.9 0Z" fill="#fff" stroke="#0a0a0a" stroke-width="1.3" stroke-linejoin="miter"/>
<path transform="translate(610.36 58.88) rotate(254.4)" d="M-5.9 0C-2.66 -3.8 2.06 -3.55 5.9 0C2.06 -2.08 -2.66 -2.33 -5.9 0Z" fill="#0a0a0a"/>
<path transform="translate(615.56 51.73) rotate(261.6)" d="M-5.9 0C-2.66 -3.8 2.06 -3.55 5.9 0C2.66 3.8 -2.06 3.55 -5.9 0Z" fill="#fff" stroke="#0a0a0a" stroke-width="1.3" stroke-linejoin="miter"/>
<path transform="translate(615.56 51.73) rotate(261.6)" d="M-5.9 0C-2.66 -3.8 2.06 -3.55 5.9 0C2.06 -2.08 -2.66 -2.33 -5.9 0Z" fill="#0a0a0a"/>
<path transform="translate(621.61 45.28) rotate(268.8)" d="M-5.9 0C-2.66 -3.8 2.06 -3.55 5.9 0C2.66 3.8 -2.06 3.55 -5.9 0Z" fill="#fff" stroke="#0a0a0a" stroke-width="1.3" stroke-linejoin="miter"/>
<path transform="translate(621.61 45.28) rotate(268.8)" d="M-5.9 0C-2.66 -3.8 2.06 -3.55 5.9 0C2.06 -2.08 -2.66 -2.33 -5.9 0Z" fill="#0a0a0a"/>
<path transform="translate(628.42 39.65) rotate(276)" d="M-5.9 0C-2.66 -3.8 2.06 -3.55 5.9 0C2.66 3.8 -2.06 3.55 -5.9 0Z" fill="#fff" stroke="#0a0a0a" stroke-width="1.3" stroke-linejoin="miter"/>
<path transform="translate(628.42 39.65) rotate(276)" d="M-5.9 0C-2.66 -3.8 2.06 -3.55 5.9 0C2.06 -2.08 -2.66 -2.33 -5.9 0Z" fill="#0a0a0a"/>
<path transform="translate(635.88 34.91) rotate(283.2)" d="M-5.9 0C-2.66 -3.8 2.06 -3.55 5.9 0C2.66 3.8 -2.06 3.55 -5.9 0Z" fill="#fff" stroke="#0a0a0a" stroke-width="1.3" stroke-linejoin="miter"/>
<path transform="translate(635.88 34.91) rotate(283.2)" d="M-5.9 0C-2.66 -3.8 2.06 -3.55 5.9 0C2.06 -2.08 -2.66 -2.33 -5.9 0Z" fill="#0a0a0a"/>
<path transform="translate(643.88 31.14) rotate(290.4)" d="M-5.9 0C-2.66 -3.8 2.06 -3.55 5.9 0C2.66 3.8 -2.06 3.55 -5.9 0Z" fill="#fff" stroke="#0a0a0a" stroke-width="1.3" stroke-linejoin="miter"/>
<path transform="translate(643.88 31.14) rotate(290.4)" d="M-5.9 0C-2.66 -3.8 2.06 -3.55 5.9 0C2.06 -2.08 -2.66 -2.33 -5.9 0Z" fill="#0a0a0a"/>
<path transform="translate(652.29 28.41) rotate(297.6)" d="M-5.9 0C-2.66 -3.8 2.06 -3.55 5.9 0C2.66 3.8 -2.06 3.55 -5.9 0Z" fill="#fff" stroke="#0a0a0a" stroke-width="1.3" stroke-linejoin="miter"/>
<path transform="translate(652.29 28.41) rotate(297.6)" d="M-5.9 0C-2.66 -3.8 2.06 -3.55 5.9 0C2.06 -2.08 -2.66 -2.33 -5.9 0Z" fill="#0a0a0a"/>
<path transform="translate(660.98 26.76) rotate(304.8)" d="M-5.9 0C-2.66 -3.8 2.06 -3.55 5.9 0C2.66 3.8 -2.06 3.55 -5.9 0Z" fill="#fff" stroke="#0a0a0a" stroke-width="1.3" stroke-linejoin="miter"/>
<path transform="translate(660.98 26.76) rotate(304.8)" d="M-5.9 0C-2.66 -3.8 2.06 -3.55 5.9 0C2.06 -2.08 -2.66 -2.33 -5.9 0Z" fill="#0a0a0a"/>
<path transform="translate(669.8 26.2) rotate(312)" d="M-5.9 0C-2.66 -3.8 2.06 -3.55 5.9 0C2.66 3.8 -2.06 3.55 -5.9 0Z" fill="#fff" stroke="#0a0a0a" stroke-width="1.3" stroke-linejoin="miter"/>
<path transform="translate(669.8 26.2) rotate(312)" d="M-5.9 0C-2.66 -3.8 2.06 -3.55 5.9 0C2.06 -2.08 -2.66 -2.33 -5.9 0Z" fill="#0a0a0a"/>
<path transform="translate(678.62 26.76) rotate(319.2)" d="M-5.9 0C-2.66 -3.8 2.06 -3.55 5.9 0C2.66 3.8 -2.06 3.55 -5.9 0Z" fill="#fff" stroke="#0a0a0a" stroke-width="1.3" stroke-linejoin="miter"/>
<path transform="translate(678.62 26.76) rotate(319.2)" d="M-5.9 0C-2.66 -3.8 2.06 -3.55 5.9 0C2.06 -2.08 -2.66 -2.33 -5.9 0Z" fill="#0a0a0a"/>
<path transform="translate(687.31 28.41) rotate(326.4)" d="M-5.9 0C-2.66 -3.8 2.06 -3.55 5.9 0C2.66 3.8 -2.06 3.55 -5.9 0Z" fill="#fff" stroke="#0a0a0a" stroke-width="1.3" stroke-linejoin="miter"/>
<path transform="translate(687.31 28.41) rotate(326.4)" d="M-5.9 0C-2.66 -3.8 2.06 -3.55 5.9 0C2.06 -2.08 -2.66 -2.33 -5.9 0Z" fill="#0a0a0a"/>
<path transform="translate(695.72 31.14) rotate(333.6)" d="M-5.9 0C-2.66 -3.8 2.06 -3.55 5.9 0C2.66 3.8 -2.06 3.55 -5.9 0Z" fill="#fff" stroke="#0a0a0a" stroke-width="1.3" stroke-linejoin="miter"/>
<path transform="translate(695.72 31.14) rotate(333.6)" d="M-5.9 0C-2.66 -3.8 2.06 -3.55 5.9 0C2.06 -2.08 -2.66 -2.33 -5.9 0Z" fill="#0a0a0a"/>
<path transform="translate(703.72 34.91) rotate(340.8)" d="M-5.9 0C-2.66 -3.8 2.06 -3.55 5.9 0C2.66 3.8 -2.06 3.55 -5.9 0Z" fill="#fff" stroke="#0a0a0a" stroke-width="1.3" stroke-linejoin="miter"/>
<path transform="translate(703.72 34.91) rotate(340.8)" d="M-5.9 0C-2.66 -3.8 2.06 -3.55 5.9 0C2.06 -2.08 -2.66 -2.33 -5.9 0Z" fill="#0a0a0a"/>
<path transform="translate(711.18 39.65) rotate(348)" d="M-5.9 0C-2.66 -3.8 2.06 -3.55 5.9 0C2.66 3.8 -2.06 3.55 -5.9 0Z" fill="#fff" stroke="#0a0a0a" stroke-width="1.3" stroke-linejoin="miter"/>
<path transform="translate(711.18 39.65) rotate(348)" d="M-5.9 0C-2.66 -3.8 2.06 -3.55 5.9 0C2.06 -2.08 -2.66 -2.33 -5.9 0Z" fill="#0a0a0a"/>
<path transform="translate(717.99 45.28) rotate(355.2)" d="M-5.9 0C-2.66 -3.8 2.06 -3.55 5.9 0C2.66 3.8 -2.06 3.55 -5.9 0Z" fill="#fff" stroke="#0a0a0a" stroke-width="1.3" stroke-linejoin="miter"/>
<path transform="translate(717.99 45.28) rotate(355.2)" d="M-5.9 0C-2.66 -3.8 2.06 -3.55 5.9 0C2.06 -2.08 -2.66 -2.33 -5.9 0Z" fill="#0a0a0a"/>
<path transform="translate(724.04 51.73) rotate(362.4)" d="M-5.9 0C-2.66 -3.8 2.06 -3.55 5.9 0C2.66 3.8 -2.06 3.55 -5.9 0Z" fill="#fff" stroke="#0a0a0a" stroke-width="1.3" stroke-linejoin="miter"/>
<path transform="translate(724.04 51.73) rotate(362.4)" d="M-5.9 0C-2.66 -3.8 2.06 -3.55 5.9 0C2.06 -2.08 -2.66 -2.33 -5.9 0Z" fill="#0a0a0a"/>
<path transform="translate(729.24 58.88) rotate(369.6)" d="M-5.9 0C-2.66 -3.8 2.06 -3.55 5.9 0C2.66 3.8 -2.06 3.55 -5.9 0Z" fill="#fff" stroke="#0a0a0a" stroke-width="1.3" stroke-linejoin="miter"/>
<path transform="translate(729.24 58.88) rotate(369.6)" d="M-5.9 0C-2.66 -3.8 2.06 -3.55 5.9 0C2.06 -2.08 -2.66 -2.33 -5.9 0Z" fill="#0a0a0a"/>
<path transform="translate(733.5 66.63) rotate(376.8)" d="M-5.9 0C-2.66 -3.8 2.06 -3.55 5.9 0C2.66 3.8 -2.06 3.55 -5.9 0Z" fill="#fff" stroke="#0a0a0a" stroke-width="1.3" stroke-linejoin="miter"/>
<path transform="translate(733.5 66.63) rotate(376.8)" d="M-5.9 0C-2.66 -3.8 2.06 -3.55 5.9 0C2.06 -2.08 -2.66 -2.33 -5.9 0Z" fill="#0a0a0a"/>
<path transform="translate(736.75 74.85) rotate(384)" d="M-5.9 0C-2.66 -3.8 2.06 -3.55 5.9 0C2.66 3.8 -2.06 3.55 -5.9 0Z" fill="#fff" stroke="#0a0a0a" stroke-width="1.3" stroke-linejoin="miter"/>
<path transform="translate(736.75 74.85) rotate(384)" d="M-5.9 0C-2.66 -3.8 2.06 -3.55 5.9 0C2.06 -2.08 -2.66 -2.33 -5.9 0Z" fill="#0a0a0a"/>
<path transform="translate(738.95 83.41) rotate(391.2)" d="M-5.9 0C-2.66 -3.8 2.06 -3.55 5.9 0C2.66 3.8 -2.06 3.55 -5.9 0Z" fill="#fff" stroke="#0a0a0a" stroke-width="1.3" stroke-linejoin="miter"/>
<path transform="translate(738.95 83.41) rotate(391.2)" d="M-5.9 0C-2.66 -3.8 2.06 -3.55 5.9 0C2.06 -2.08 -2.66 -2.33 -5.9 0Z" fill="#0a0a0a"/>
<path transform="translate(740.06 92.18) rotate(398.4)" d="M-5.9 0C-2.66 -3.8 2.06 -3.55 5.9 0C2.66 3.8 -2.06 3.55 -5.9 0Z" fill="#fff" stroke="#0a0a0a" stroke-width="1.3" stroke-linejoin="miter"/>
<path transform="translate(740.06 92.18) rotate(398.4)" d="M-5.9 0C-2.66 -3.8 2.06 -3.55 5.9 0C2.06 -2.08 -2.66 -2.33 -5.9 0Z" fill="#0a0a0a"/>
<path d="M663 96.4C666.6 95.4 668.6 93.6 669 90.6C669.4 87 667.2 84.6 667.2 80.4C667.2 77.6 667.8 75.8 668.2 73.8L675.2 74.2C674.4 76.6 674 78.6 674.6 81C675.4 84.2 677.6 86 677.8 89.4C678 92.6 681.6 94.6 688.6 95.6C684 96.2 680.6 95.8 677.6 94.6C678.2 95.6 679.4 96.4 680.6 96.9C677.6 96.7 675.6 96 674.2 94.8C673.4 95.8 672.6 96.4 671.4 96.8C671.4 95.8 671 95.2 670.4 94.8C668.6 96 666 96.6 663 96.4Z" fill="#0a0a0a"/>
<path d="M669.2 76.4C666.6 70 662 63.6 656.2 59.6C652.8 57.4 649.6 56.4 646.6 56.2" stroke="#0a0a0a" stroke-width="1.5" fill="none" stroke-linecap="round"/>
<path d="M667.6 76C663.6 73.4 659.6 72.6 655.6 72.9C651.6 73.2 647.6 74.2 644.4 73.9C641.4 73.6 638.6 72.8 636.4 71.6" stroke="#0a0a0a" stroke-width="1.3" fill="none" stroke-linecap="round"/>
<path d="M672 75C671.8 70 671.2 66 670.8 63C670.4 59.6 669.6 56 668.6 52.6" stroke="#0a0a0a" stroke-width="1.4" fill="none" stroke-linecap="round"/>
<path d="M673.8 75C675.4 71.6 677.6 68.8 680.6 66.4C683.2 64.4 686 63.2 689 62.4C691.8 61.6 694.6 60.8 697.4 60" stroke="#0a0a0a" stroke-width="1.4" fill="none" stroke-linecap="round"/>
<path d="M675 76.6C678 75.4 681.4 75 684.6 75.2C688.4 75.6 691.6 77.4 695.2 78C697.8 78.4 700 77.6 701.4 75.8C702.6 74 702.8 71.8 702.4 69.4" stroke="#0a0a0a" stroke-width="1.3" fill="none" stroke-linecap="round"/>
<path d="M656.2 59.6C655.4 55.6 654.2 52.4 652 49.6" stroke="#0a0a0a" stroke-width="1.0" fill="none" stroke-linecap="round"/>
<path d="M661 65C658.6 62.6 655 61.6 651.4 62.4" stroke="#0a0a0a" stroke-width="0.9" fill="none" stroke-linecap="round"/>
<path d="M670.8 63C668 58.4 664.6 54.6 660.6 52.2" stroke="#0a0a0a" stroke-width="1.0" fill="none" stroke-linecap="round"/>
<path d="M671.2 66C673.6 61 676.6 56.6 680 53" stroke="#0a0a0a" stroke-width="1.0" fill="none" stroke-linecap="round"/>
<path d="M680.6 66.4C681.4 61.6 683.4 57.2 686.4 53.6" stroke="#0a0a0a" stroke-width="1.0" fill="none" stroke-linecap="round"/>
<path d="M689 62.4C692 59 694 55.4 695 51.6" stroke="#0a0a0a" stroke-width="0.9" fill="none" stroke-linecap="round"/>
<path d="M684.6 75.2C688 72.4 691.6 70.8 695.4 70.4" stroke="#0a0a0a" stroke-width="0.9" fill="none" stroke-linecap="round"/>
<path d="M655.6 72.9C652 70.6 648 70 644 70.6" stroke="#0a0a0a" stroke-width="0.9" fill="none" stroke-linecap="round"/>
<path d="M700.48 57.63L702.6 57.75M648.57 60.47L648.02 59.12M641 74.22L642.05 72.46M672.6 38.52L673.48 39.9M647.87 47.55L649.52 47.47M667.83 50.04L668.02 48.28M694.51 68.77L696.48 68.65M657.92 47.96L657.48 45.94M689.47 54.6L690.87 54.84M695.4 53.63L696.51 54.54M704.91 74.47L703.05 75.63M639.33 64.82L641.19 65.46M691.57 47.77L690.54 49.78M703.55 70.31L705.28 71.67M692.84 43.69L691.94 45.48M675.26 55.93L675.28 57.78M648.37 70.45L649.09 69.15M644.66 66.64L644.2 64.94M644 56.32L642.77 54.97M649.37 54.35L650.97 54.53M697.09 65L695.94 66.4M642.45 82.22L642 80.81M689.95 51.67L691.32 51.27M655.65 39.21L657.02 40.46M652.43 64.66L652.57 63.06M661.74 57.84L661.78 56.4M700.78 73L700.04 74.42M651.94 44.98L653.99 45.29M697.52 64.43L699.51 63.49M664.91 42.07L665.78 40.37M638.66 80.65L636.92 79.95M651.81 69.61L652.53 67.51M677.08 49.39L678.82 50.31M666.92 38.33L667.27 40.18M647.69 54.39L647.69 52.17M675.54 42.14L676.85 42.84M704.54 66.52L706.65 66.26M685.22 62.38L684.32 63.8M636.97 78.56L635.61 77.27M635.72 65.72L637.34 65.17M639.58 61.21L641.26 61.49M687.54 67.58L688.6 69.45M679.26 54.04L680.73 53.75M687.58 53.39L687.28 54.96M688 62.08L687.85 63.78M640.52 71.17L641.55 70.1M669.14 46.14L670.12 47.81M685.61 58.32L684.95 59.93M655.84 67.06L657.51 67.65M648.84 44.54L650.33 43.9M699.64 65.94L700.78 67.12M644.06 58.85L645.55 59.33M695.81 74.22L694.74 76.01M679.16 59.57L680.95 58.37M693.88 47.01L695.59 47.59M683.5 45.98L685.07 45.16M653.79 52.05L655.43 52.41M703 68.72L701.29 70.01M661.56 62.92L662.7 61.85M641.59 57.23L640.33 55.89M669.33 37.33L670.86 38.25M650.05 60.27L651.83 60.66M695.44 61.15L696.04 62.81M657.57 54.56L657.31 53.13M649.1 75.18L650.89 75.24M675.4 45.07L677.12 46.22M673.41 60.07L673.76 58.72M677.94 36.92L679.21 38.6M684.25 40.09L685.25 38.91M703.26 78.19L704.53 78.84M653.64 57.74L655.12 58.31M648.3 65.14L649.27 64.09M683.7 50.98L685.23 51.33M673.06 42.97L673.16 44.57M657.74 57.15L659.32 58.34M671.44 55.3L672.77 56.84M648.59 57.91L647.52 56.4M705.97 72.32L705.54 73.92M700.35 75.94L698.75 77.13M652.69 54.37L654.26 55.17M661.06 40.93L663.04 41.03M703.77 62.47L705.5 62.21M661.18 50.34L661.47 48.66M681.26 62.02L683.08 62M645.19 71.02L647.36 70.65M640.93 78.04L639.65 77.36M665.66 58.94L666.2 57.52M690.27 61.27L691.76 60.03M686.98 47.71L688.76 46.98M642.86 78.14L643.54 76.1M691.39 64.13L691.55 65.75M688.39 45.73L690.09 44.54M679.56 40.17L680.2 42.15M664.95 47.87L666.16 48.62M692.44 53.84L694.18 52.74M657.57 61.97L659.29 60.96M665.5 54.1L666.09 52.5M649.85 67.59L650.86 65.66M654.41 43.57L656.33 42.44M700.36 78.63L701.91 79.9M660.89 53.63L661.75 52.43M681.07 48.27L682.38 47.07M649.98 71.26L651.76 71.39M699.82 55.41L701.94 54.96M661.93 44.95L662.14 43.31M693.12 57.87L694.55 58.76M696.67 59.78L698.5 60.19M653.54 61.12L654.83 60.52M668.88 57.57L670.26 58.08M695.96 50.29L697.5 50.33M645.29 74.51L647.39 74.2M657.45 51.4L657.39 49.88M687 51.72L688.33 51.25M663.8 36.63L665.54 37.78M693.43 63.96L695.4 64.68M699.01 61.29L701.02 61.6M679.7 44.6L680.6 46.41M674.67 47.98L676.02 49.08M672.16 49.17L672.69 47.83M675.07 52.11L676.72 51.11M680.34 37.96L682.07 38.49M682.47 43.54L684.15 42.63M668.08 55.13L669.59 55.31M689.66 69.9L689.5 71.51M638.98 69.16L638.5 67.08M652.8 51.24L652.33 49M668.24 45.15L669.8 43.49M698.6 81.12L698.08 82.47M685.33 42.75L687.36 42.53M647.96 78.34L648.87 76.29M691.89 71.39L691.38 73.6M644.8 50.35L646.26 50.96M646.5 68.95L646.51 66.9M693.98 71.99L695.68 72.6M698.05 57.77L699.59 57.32M645.31 63.96L646.4 62.06M638.4 59.64L639.47 58.45M684.56 54.71L684.45 56.44M655.13 70.41L656.06 69.13M669.48 42.49L670.83 41.46M699.61 49.5L698.93 51.65M692.63 69.45L691.45 70.47M663.12 50.66L664.96 51.6M662.2 47.97L663.18 45.96M697.28 68.86L698.95 70.36M702.36 63.54L703.14 64.98M640.75 53.41L641.98 52.67M704.17 80.22L705.57 81.63M655.98 60.39L657.45 58.78M650.27 58.08L651.08 56.02M638.79 75.41L638.34 73.63M688.32 58.28L689.6 59.07M658.55 42.47L659.41 44.32M636.85 63.14L637.42 61.82M672.18 52.48L673.66 52.76M697.49 78.38L696.15 79.7M635.49 71.97L636.67 71.12M659.66 37.86L660.38 39.62M642.01 68.56L641.95 66.99M693.51 49.52L693.81 51.08M645.7 81.25L645.93 79.49M657.76 64.97L658.73 63.25M664.71 45.69L664.9 43.98M668.53 52.3L670.56 53.22M643.18 73.69L644.96 72.82M649.02 51.78L648.18 49.92M698.04 52.1L698.53 53.69M650.45 47.5L652.44 47.74M675.62 40.79L675.99 38.97M704.09 58.97L703.07 60.06M654.39 64.6L655.92 63.6M681.13 51.53L682.01 49.73M643.7 61.84L642.73 60.22M677.13 56.14L678.9 56.06M644.31 47.51L646 48.84M669.33 50.59L671.31 49.45M701.65 81.55L703.5 82.45M689.27 41.12L690.05 42.79M678.44 46.6L678.56 48.18M698.56 72.69L696.5 73.67M706.19 75.11L706.27 77.25M659.29 45.59L661.12 46.44M654.37 72.44L653.52 70.87M674.76 54.18L676.87 54.06M664.12 61.21L663.8 59.07M682.22 54.36L683.73 52.68M683.83 47.79L685.3 49.18M681.92 58.23L683.54 57.42M645.24 55.84L646.77 54.84M683.97 65.98L685.56 66.75M653.91 47.25L655.65 46.74M691.77 55.96L691.8 57.76M690.05 67.11L691.52 68.13M673.66 37.02L675.51 37.31M647.59 73.38L649.52 72.51M635.86 69.63L635.81 67.79M636.54 75.4L635.2 73.75M659.15 54.74L660.48 55.95M651.1 43.12L652.43 42.49M687.4 66.34L688.89 65.69M641.82 63.68L643.63 63.62M677.17 59.1L678.1 60.68M643.23 53.85L644.98 52.41M701.24 70.75L699.18 71.58M659.84 58.98L661.1 60.62M645.29 78.71L645.93 76.98M685.62 56.49L687.8 57.11M701.99 67.03L703.79 66.7M663.02 55.96L664.9 54.75M706.83 68.15L705.66 69.94M641.97 50.07L643.47 51.09M644.68 69.72L643.38 68.83M667.43 60.13L668.81 59.6M692.32 66.66L694.18 67.59M670.47 60.57L671.53 59.41M654.79 55.33L656.67 56.38M696.12 56.86L696.44 58.49M693.96 61.03L692.52 62.78M692.03 74.75L693.06 75.9M653.3 66.32L654.94 66.89M666.1 46.65L668.19 45.95M639.08 72.41L638.28 71.19M666.89 35.91L667.48 37.55M635.95 69.44L636.67 70.56M635.91 71.35L636.74 72.56M637.67 73.19L636.79 74.74M637.5 75.22L636.71 76.5M636.14 77.55L637.21 78.58M636.46 79.38L637.74 80.67M637.11 80.86L636.48 82.71M638.13 83.22L637.75 84.8M637.51 85.51L638.43 86.74M638.98 87.6L637.62 89.04M637.71 89.24L637.84 90.94M639.69 71.39L640.2 72.61M640.15 73.09L640.82 74.75M640.94 75.54L641.74 76.85M639.93 77.29L640.72 78.67M640.01 79.46L640.78 80.76M641.46 81.4L641.28 83.28M642.06 83.8L640.76 85.07M641.15 85.87L640.83 87.47M641.34 87.66L642.67 89.06M642.02 89.4L640.96 91.09M643.82 74.45L644.78 75.55M643.73 76.65L644.76 77.66M644.85 78.28L644.24 80.18M644.02 80.46L644.48 82.31M645.52 82.63L645.01 84.54M645.13 84.49L645.21 86.02M643.69 86.87L644.7 87.78M645.38 88.59L644.39 89.5M644.17 90.13L645.15 91.38M649.04 75.32L648.46 76.68M648.51 77.08L647.49 78.75M648.35 78.87L648.01 80.52M647.51 80.59L647.81 82.4M648.2 82.68L647.91 84.12M649.25 84.4L648.19 86.06M647.24 86.39L648.18 87.99M652.49 75.37L653.38 76.63M653.47 77.44L652.91 78.64M653.36 79.64L653.92 80.97M654.29 81.59L653.24 82.94M653.72 83.52L652.56 85.02M654.29 85.18L653.87 86.59M659.33 75.37L658.81 76.63M658.91 77.56L657.73 78.79M658.09 79.91L657.05 81.01M657.32 81.72L656.9 82.99M656.5 83.61L656.6 85.14M656.37 85.36L656.18 86.65M656.01 87.64L657.09 88.69M636.2 61.09L635.93 62.91M635.4 63.57L636.26 64.67M636.18 65.18L635.44 66.93M636.07 66.89L635.15 68.64M636.03 68.59L636.87 70.34M636.65 70.83L636.17 72.46M635.91 73.22L636.89 74.24M639.31 56.11L639.94 57.89M638.95 58.11L639.93 59.35M638.21 59.97L639.58 61.24M638.14 61.79L639.14 63.15M638.99 63.86L639.56 65.11M637.63 65.89L638.12 67.64M637.44 68.14L638.34 69.54M704.04 69.31L703.48 70.69M703.02 71.11L703.44 72.8M702.95 73.38L702.27 74.93M702.73 75.5L702.84 77.08M702.27 77.75L701.94 79.29M700.82 80.01L701.95 81.44M700.78 81.84L702.03 83.4M701.49 83.73L700.81 85.36M701.66 85.81L700.44 87.09M701.35 87.59L701.75 89.13M705.7 61.16L705.34 62.84M706.59 62.95L706.24 64.36M705.83 64.9L706.51 66.29M705.19 66.97L706.43 68.31M705.61 68.77L705.34 70.52M706.3 70.94L706.65 72.77M706.87 72.88L706.37 74.56M706.26 74.55L707.25 76.14M706.23 76.39L706.66 78.14M705.9 78.91L707.1 80.22M700.34 78.17L699.87 79.83M699.73 80.08L699.94 81.73M698.92 81.82L699.58 83.54M699.57 84.3L698.58 85.39M698.67 86.29L699.34 87.56M693.35 79.31L693.23 80.69M690.84 81.01L692.12 82.49M689.19 82.41L689.13 84.37M686.58 85.05L687.41 86.21M695.36 81.46L696.47 82.54M694.45 83.05L695.54 84.21M693.75 84.41L693.88 86.19M692.5 86.61L692.11 87.88M691.94 88.13L691.43 89.63M687.59 78.2L687.53 79.8M686.06 80.2L687.55 81.49M686.68 81.83L686.42 83.13" stroke="#0a0a0a" stroke-width="1" fill="none" stroke-linecap="round"/>
<path d="M623.6 102H629.6V118.8H630.8L632.9 112.4L635 118.8H636.2V102H642.2V122.2Q642.2 124.2 640.2 124.2H634.5L632.9 122L631.3 124.2H625.6Q623.6 124.2 623.6 122.2Z" fill="#0a0a0a"/>
<rect x="644.6" y="102" width="5.5" height="22.2" fill="#0a0a0a"/>
<path d="M652.1 102H657.7V119.3H664.7V124.2H652.1Z" fill="#0a0a0a"/>
<path d="M667.1 102H672.7V119.3H679.5V124.2H667.1Z" fill="#0a0a0a"/>
<path fill-rule="evenodd" d="M683.7 102H696.6Q698.1 102 698.1 103.5V122.7Q698.1 124.2 696.6 124.2H683.7Q682.2 124.2 682.2 122.7V103.5Q682.2 102 683.7 102ZM687.9 106.8V119.6H691.8V106.8Z" fill="#0a0a0a"/>
<path d="M699.7 102H705.7V118.8H706.9L709 112.4L711.1 118.8H712.3V102H718.3V122.2Q718.3 124.2 716.3 124.2H710.6L709 122L707.4 124.2H701.7Q699.7 124.2 699.7 122.2Z" fill="#0a0a0a"/>
<text x="625.4" y="137.3" textLength="90.8" lengthAdjust="spacingAndGlyphs" style="font-family:'Liberation Sans',sans-serif;font-weight:normal;font-size:14.1px" fill="#0a0a0a" stroke="#0a0a0a" stroke-width=".6">COLLECTIONS</text>
</g>
</svg></body></html>
